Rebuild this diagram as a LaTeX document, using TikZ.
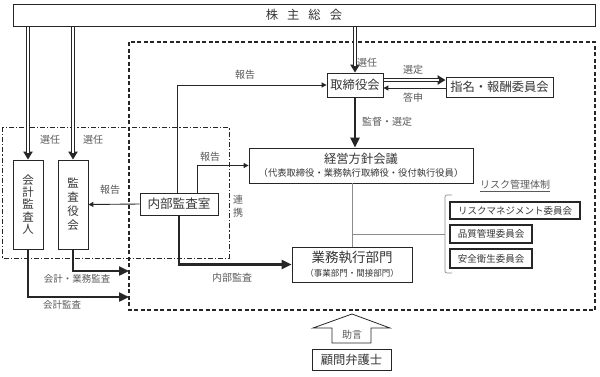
\documentclass[tikz,border=0pt]{standalone}
\usepackage{fontspec}
\setmainfont{Noto Sans CJK JP}
\usetikzlibrary{arrows.meta, positioning, calc}
\definecolor{cink}{HTML}{262626}
\definecolor{ctext}{HTML}{363636}
\definecolor{cnote}{HTML}{595959}
\definecolor{cline}{HTML}{8C8C8C}
\tikzset{
  every picture/.style={line width=0.8pt},
  box/.style={draw=cink, fill=white, align=center, inner sep=1pt, text=ctext, font=\fontsize{12.3}{13}\selectfont},
  riskbox/.style={box, font=\fontsize{9.5}{11}\selectfont, line width=1.3pt},
  vbox/.style={box, minimum width=30pt, minimum height=89pt},
  note/.style={font=\fontsize{10}{11}\selectfont, text=cnote, inner sep=1pt},
  thin arrow/.style={-{Triangle[length=5pt,width=5pt]}, draw=cink, line width=0.9pt},
  thick arrow/.style={-{Triangle[length=10pt,width=9pt]}, draw=cink, line width=2.3pt},
  dbl arrow/.style={draw=white, line width=1.8pt, shorten >=7pt, shorten <=0.6pt,
    preaction={draw=cink, line width=3.8pt, shorten >=0pt, shorten <=0pt, -{Triangle[length=8pt,width=9pt]}}},
  framebox/.style={draw=cink, line width=1.1pt, dash pattern=on 4pt off 2.5pt},
  groupbox/.style={draw=cink, line width=1pt, dash pattern=on 5pt off 2pt on 1.2pt off 2pt},
  link/.style={draw=cline, line width=0.7pt},
}
\newcommand{\subtext}[2][9]{{\fontsize{#1}{11}\selectfont #2}}

\begin{document}
\begin{tikzpicture}[x=1pt, y=-1pt]
  \useasboundingbox (0,0) rectangle (600,376);
  % frames
  \draw[framebox] (129,42) rectangle (595,310);
  \draw[groupbox] (2,127) rectangle (229,258);
  % organs
  \node[box, minimum width=582pt, minimum height=22pt] (gm) at (304,15) {株\hspace{9pt}主\hspace{9pt}総\hspace{9pt}会};
  \node[box, minimum width=56pt, minimum height=24pt] (board) at (355,85) {取締役会};
  \node[box, minimum width=107pt, minimum height=20pt] (nom) at (499.5,87) {指名・報酬委員会};
  \node[box, minimum width=224pt, minimum height=35pt] (mgmt) at (361,165.5) {経営方針会議\\\subtext[9.3]{（代表取締役・業務執行取締役・役付執行役員）}};
  \node[box, minimum width=78pt, minimum height=22pt, font=\fontsize{12.6}{13}\selectfont] (audit) at (179,204) {内部監査室};
  \node[vbox, font=\fontsize{11.5}{14}\selectfont] (kansa) at (73,204.5) {監\\査\\役\\会};
  \node[vbox, font=\fontsize{11.5}{12.2}\selectfont] (kaikei) at (28,204.5) {会\\計\\監\\査\\人};
  \node[box, minimum width=120pt, minimum height=35pt, font=\fontsize{13.5}{14}\selectfont] (exec) at (352,264.5) {業務執行部門\\\subtext[8.5]{（事業部門・間接部門）}};
  \node[riskbox, minimum width=130pt, minimum height=17pt] (risk1) at (515,210.5) {リスクマネジメント委員会};
  \node[riskbox, minimum width=82pt, minimum height=18pt] (risk2) at (491,234) {品質管理委員会};
  \node[riskbox, minimum width=82pt, minimum height=19pt] (risk3) at (491,258.5) {安全衛生委員会};
  \node[box, minimum width=79pt, minimum height=21pt] (lawyer) at (351.5,359.5) {顧問弁護士};
  % connectors
  \draw[dbl arrow] (kaikei.north |- gm.south) -- (kaikei.north);
  \draw[dbl arrow] (kansa.north |- gm.south) -- (kansa.north);
  \draw[dbl arrow] (board.north |- gm.south) -- (board.north);
  \draw[dbl arrow] ([yshift=5pt]board.east) -- ([yshift=5pt]board.east -| nom.west);
  \draw[thin arrow] ([yshift=-3pt]board.east -| nom.west) -- ([yshift=-3pt]board.east);
  \draw[thick arrow] (board.south) -- (board.south |- mgmt.north);
  \draw[thin arrow] ([xshift=-2pt]audit.north) |- (board.west);
  \draw[thin arrow] ([xshift=18pt]audit.north) |- (mgmt.west);
  \draw[thin arrow] (audit.west) -- (kansa.east);
  \draw[thick arrow] (audit.south) |- (exec.west);
  \coordinate (exit1) at (129,271);
  \coordinate (exit2) at (129,297);
  \draw[thick arrow] (kansa.south) |- (exit1);
  \draw[thick arrow] (kaikei.south) |- (exit2);
  \coordinate (brk) at (445,234);
  \draw[link] (exec.north |- mgmt.south) -- (exec.north);
  \draw[link] (exec.north |- brk) -- (brk);
  \draw[link, rounded corners=2pt] (452,195) -- (445,195) -- (445,273) -- (452,273);
  % advice arrow
  \draw[draw=cink, fill=white, line width=0.8pt] (352,314) -- (390,328) -- (371,328) -- (371,343)
    -- (332,343) -- (332,328) -- (313,328) -- cycle;
  % labels
  \node[note] (n-senin1) at (50,140) {選任};
  \node[note] (n-senin2) at (93,140) {選任};
  \node[note] (n-senin3) at (367,63) {選任};
  \node[note] (n-sentei) at (413,70) {選定};
  \node[note] (n-toshin) at (413,98) {答申};
  \node[note] (n-kantoku) at (387,122) {監督・選定};
  \node[note] (n-hokoku1) at (245,75) {報告};
  \node[note] (n-hokoku2) at (210,157) {報告};
  \node[note] (n-hokoku3) at (110,190) {報告};
  \node[note, align=center, font=\fontsize{10}{13}\selectfont] (n-renkei) at (238,206) {連\\携};
  \node[note] (n-naibu) at (232,278) {内部監査};
  \node[note, font=\fontsize{9.5}{11}\selectfont] (n-gyomu) at (77,279) {会計・業務監査};
  \node[note, font=\fontsize{9.5}{11}\selectfont] (n-kaikei) at (62,305) {会計監査};
  \node[note] (n-risk) at (515,186) {\underline{リスク管理体制}};
  \node[note] (n-jogen) at (352,335) {助言};
\end{tikzpicture}
\end{document}
